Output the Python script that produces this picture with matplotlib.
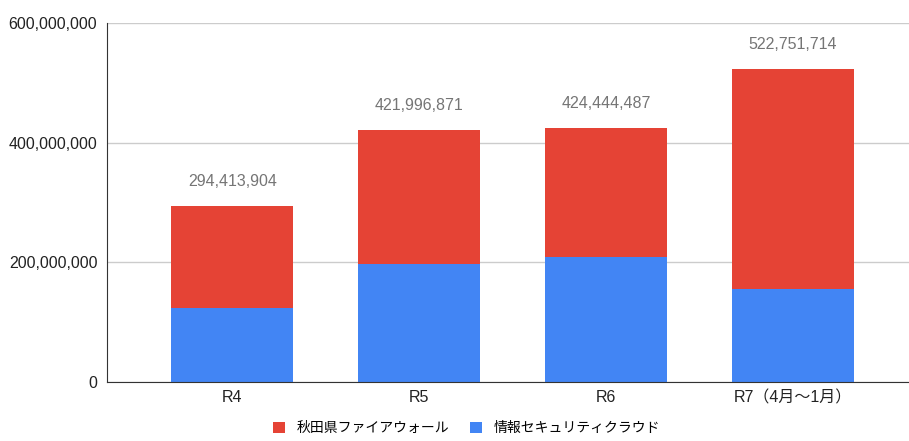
import numpy as np
import matplotlib.pyplot as plt
from matplotlib.ticker import FuncFormatter

plt.rcParams['font.family'] = ['Liberation Sans', 'Noto Sans CJK JP', 'DejaVu Sans']

# data
categories = ['R4', 'R5', 'R6', 'R7（4月〜1月）']
totals = [294413904, 421996871, 424444487, 522751714]
cloud = [123000000, 197000000, 209000000, 155000000]   # 情報セキュリティクラウド (estimated)
firewall = [t - c for t, c in zip(totals, cloud)]       # 秋田県ファイアウォール
series_names = ['秋田県ファイアウォール', '情報セキュリティクラウド']

red = '#E54335'
blue = '#4285F4'

fig = plt.figure(figsize=(9.09, 4.41), dpi=100)
ax = fig.add_axes([0.1177, 0.1338, 0.8823, 0.814])

x = np.arange(len(categories))
w = 0.65
ax.bar(x, cloud, width=w, color=blue, label=series_names[1], zorder=2)
ax.bar(x, firewall, width=w, bottom=cloud, color=red, label=series_names[0], zorder=2)

for xi, t in zip(x, totals):
    ax.text(xi, t + 28000000, f'{t:,}', ha='center', va='bottom',
            fontsize=11.5, color='#757575')

ax.set_xlim(-0.67, 3.62)
ax.set_ylim(0, 600000000)
ax.set_yticks([0, 200000000, 400000000, 600000000])
ax.yaxis.set_major_formatter(FuncFormatter(lambda v, p: f'{int(v):,}'))
ax.set_xticks(x)
ax.set_xticklabels(categories)
ax.tick_params(axis='both', length=0, labelsize=11.5, labelcolor='#222222')
ax.tick_params(axis='y', pad=7)
ax.tick_params(axis='x', pad=6)

ax.grid(axis='y', color='#cccccc', linewidth=1, zorder=0)
for s in ['top', 'right']:
    ax.spines[s].set_visible(False)
ax.spines['left'].set_color('#333333')
ax.spines['bottom'].set_color('#333333')

handles, labels = ax.get_legend_handles_labels()
fig.legend(handles[::-1], labels[::-1], loc='lower center', bbox_to_anchor=(0.513, -0.015),
           ncol=2, frameon=False, fontsize=10, handlelength=0.9, handleheight=0.9,
           columnspacing=1.5, handletextpad=0.8)

fig.savefig('out.png', dpi=100)
